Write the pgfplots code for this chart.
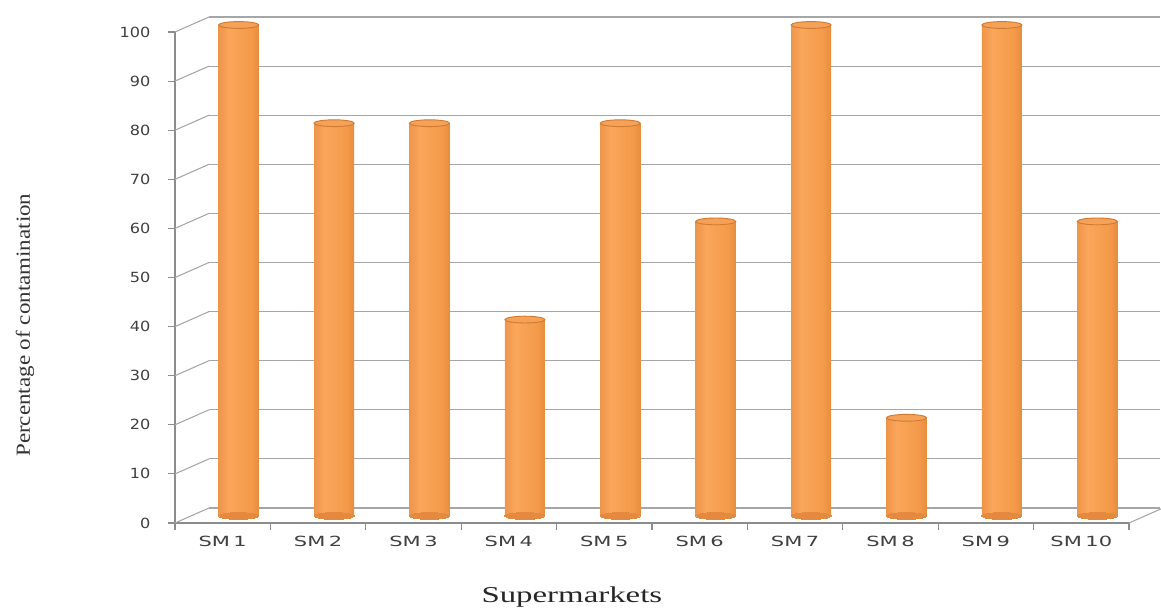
\documentclass[border=0pt]{standalone}
\usepackage{pgfplots}
\usepackage{pgfplotstable}
\pgfplotsset{compat=1.18}
\usepackage{graphicx}
\usepackage{fontspec}
\setmainfont{Liberation Serif}
\newfontfamily\dejavu{DejaVu Sans}
\definecolor{txt}{HTML}{404040}
\definecolor{gridc}{HTML}{A6A6A6}
\definecolor{axc}{HTML}{8C8C8C}
\definecolor{c0}{HTML}{B0641F}
\definecolor{c1}{HTML}{E3853A}
\definecolor{c2}{HTML}{FAA65B}
\definecolor{c3}{HTML}{F49A4A}
\definecolor{c4}{HTML}{D67C32}
\definecolor{c5}{HTML}{A95E1E}
\definecolor{capc}{HTML}{F6A158}
\definecolor{capd}{HTML}{D17A31}
\definecolor{botc}{HTML}{E38A3E}
\pgfdeclarehorizontalshading{cyl}{100bp}{color(0bp)=(c0); color(12bp)=(c1); color(38bp)=(c2); color(65bp)=(c3); color(88bp)=(c4); color(100bp)=(c5)}
\newcommand{\sx}[1]{\scalebox{1.5}[1]{#1}}
\newcommand{\sy}[1]{\scalebox{1.15}[1]{#1}}
\pgfplotstableread{
x val zero
1 100 0
2 80 0
3 80 0
4 40 0
5 80 0
6 60 0
7 100 0
8 20 0
9 100 0
10 60 0
}\datatable
\pgfplotsset{cylbar/.style={ybar, bar width=30pt, bar shift=0pt, draw=none, shading=cyl}}
\begin{document}
\begin{tikzpicture}
\path[use as bounding box] (-131.25pt,-65.25pt) rectangle (739.5pt,392.25pt);
% back wall grid
\begin{axis}[at={(25.5pt,11.25pt)}, anchor=south west, scale only axis,
  width=713.25pt, height=368.25pt,
  xmin=0.5, xmax=10.5, ymin=0, ymax=100,
  axis line style={draw=none}, xtick=\empty,
  ytick={0,10,...,100}, yticklabels={}, major tick length=0pt,
  ymajorgrids, major grid style={gridc, line width=0.8pt}]
\end{axis}
% front axes
\begin{axis}[at={(0,0)}, anchor=south west, scale only axis,
  width=715.5pt, height=368.25pt,
  xmin=0.5, xmax=10.5, ymin=0, ymax=100,
  axis x line*=bottom, axis y line*=left,
  axis line style={axc, line width=0.8pt, -},
  tick style={axc, line width=0.8pt},
  tick align=outside, major tick length=5pt,
  ytick={0,10,...,100},
  yticklabels={\sy{0},\sy{10},\sy{20},\sy{30},\sy{40},\sy{50},\sy{60},\sy{70},\sy{80},\sy{90},\sy{100}},
  yticklabel style={font=\dejavu\fontsize{10.5}{12}\selectfont, text=txt, xshift=-10pt},
  xtick={0.5,1.5,...,10.5},
  x tick label as interval,
  xticklabels={\sx{SM\,1},\sx{SM\,2},\sx{SM\,3},\sx{SM\,4},\sx{SM\,5},\sx{SM\,6},\sx{SM\,7},\sx{SM\,8},\sx{SM\,9},\sx{SM\,10}},
  xticklabel style={font=\dejavu\fontsize{10.5}{12}\selectfont, text=txt, yshift=-1pt},
  clip=false]
\pgfplotsinvokeforeach{0,10,...,100}{
  \draw[gridc, line width=0.8pt] (axis cs:0.5,#1) -- ++(25.5pt,11.25pt);
}
\draw[gridc, line width=0.8pt] (axis cs:10.5,0) -- ++(25.5pt,11.25pt);
\node[rotate=90, text=black!80, font=\fontsize{15}{17}\selectfont] at ([xshift=-112.5pt]rel axis cs:0,0.403) {\scalebox{1.15}[1]{Percentage of contamination}};
\node[text=black!85, font=\fontsize{17}{20}\selectfont] at ([yshift=-55.5pt]rel axis cs:0.416,0) {\scalebox{1.45}[1]{Supermarkets}};
\end{axis}
% bars
\begin{axis}[at={(12pt,5.25pt)}, anchor=south west, scale only axis,
  width=715.5pt, height=368.25pt,
  xmin=0.5, xmax=10.5, ymin=0, ymax=100, hide axis, clip=false]
\addplot[color=botc, only marks, mark=*, mark size=15pt, mark options={yscale=0.17, fill=botc, draw=botc, line width=0pt}] table[x=x, y=zero] {\datatable};
\addplot[cylbar] coordinates {(1,100)};
\addplot[cylbar] coordinates {(2,80)};
\addplot[cylbar] coordinates {(3,80)};
\addplot[cylbar] coordinates {(4,40)};
\addplot[cylbar] coordinates {(5,80)};
\addplot[cylbar] coordinates {(6,60)};
\addplot[cylbar] coordinates {(7,100)};
\addplot[cylbar] coordinates {(8,20)};
\addplot[cylbar] coordinates {(9,100)};
\addplot[cylbar] coordinates {(10,60)};
\addplot[color=capd, only marks, mark=*, mark size=15pt, mark options={yscale=0.17, fill=capc, draw=capd, line width=0.7pt}] table[x=x, y=val] {\datatable};
\end{axis}
\end{tikzpicture}
\end{document}
